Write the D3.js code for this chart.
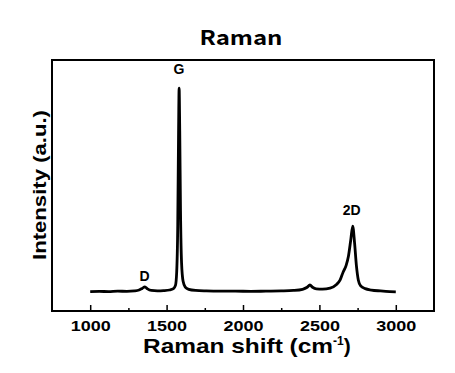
<!DOCTYPE html>
<html>
<head>
<meta charset="utf-8">
<script src="https://cdn.jsdelivr.net/npm/d3@7"></script>
<style>
  body { margin: 0; background: #fff; }
  text { font-family: Arial, "Liberation Sans", sans-serif; font-weight: bold; fill: #000; }
</style>
</head>
<body>
<div id="chart"></div>
<script>
// spectrum (wavenumber in cm-1, intensity in a.u.)
var shift = [1000, 1060, 1120, 1180, 1240, 1290, 1320, 1340, 1358, 1375, 1400, 1440, 1480, 1520,
  1545, 1558, 1566, 1573, 1578, 1582, 1586, 1591, 1598, 1608, 1622, 1645, 1690, 1760, 1850,
  1950, 2050, 2150, 2250, 2330, 2390, 2420, 2438, 2455, 2480, 2520, 2570, 2610, 2635, 2655,
  2675, 2690, 2705, 2718, 2730, 2742, 2755, 2770, 2800, 2840, 2900, 2960, 3000];
var intensity = [0.085, 0.086, 0.085, 0.087, 0.086, 0.088, 0.092, 0.099, 0.106, 0.097, 0.09, 0.088, 0.089, 0.092,
  0.098, 0.112, 0.17, 0.38, 0.76, 0.977, 0.79, 0.44, 0.21, 0.13, 0.105, 0.095, 0.09, 0.088, 0.087,
  0.087, 0.086, 0.087, 0.088, 0.09, 0.095, 0.104, 0.114, 0.104, 0.097, 0.096, 0.1, 0.115, 0.135, 0.17,
  0.2, 0.24, 0.31, 0.372, 0.3, 0.2, 0.135, 0.11, 0.098, 0.092, 0.088, 0.085, 0.084];
var peakNames = ["D", "G", "2D"];
var peakPos = [1355, 1580, 2712];
var peakTop = [0.13, 1.04, 0.42];
var xTicks = [1000, 1500, 2000, 2500, 3000];
var xMinorTicks = [1250, 1750, 2250, 2750];

var margin = {top: 60, right: 21, bottom: 62, left: 52},
    width = 455 - margin.left - margin.right,
    height = 373 - margin.top - margin.bottom;

var svg = d3.select("#chart")
  .append("svg")
  .attr("width", 455)
  .attr("height", 373);

var g = svg.append("g")
  .attr("transform", "translate(" + margin.left + "," + margin.top + ")");

var x = d3.scaleLinear().domain([750, 3250]).range([0, width]);
var y = d3.scaleLinear().domain([0, 1.1]).range([height, 0]);

var data = shift.map(function(s, i) { return {shift: s, value: intensity[i]}; });

// spectrum line
var line = d3.line()
  .x(function(d) { return x(d.shift); })
  .y(function(d) { return y(d.value); })
  .curve(d3.curveMonotoneX);

g.append("path")
  .datum(data)
  .attr("fill", "none")
  .attr("stroke", "#000")
  .attr("stroke-width", 2.8)
  .attr("stroke-linejoin", "round")
  .attr("d", line);

// x axis, ticks pointing inward
var xAxis = g.append("g")
  .attr("transform", "translate(0," + height + ")")
  .call(d3.axisBottom(x).tickValues(xTicks).tickFormat(d3.format("d"))
    .tickSizeInner(-6).tickSizeOuter(0).tickPadding(10));
xAxis.select(".domain").remove();
xAxis.selectAll("line").attr("stroke-width", 1.5);
xAxis.selectAll("text")
  .attr("font-size", 14)
  .attr("font-weight", "bold")
  .attr("font-family", "Arial, 'Liberation Sans', sans-serif")
  .attr("textLength", 40)
  .attr("lengthAdjust", "spacingAndGlyphs");

var minor = g.append("g")
  .attr("transform", "translate(0," + height + ")")
  .call(d3.axisBottom(x).tickValues(xMinorTicks).tickSizeInner(-3).tickSizeOuter(0).tickFormat(""));
minor.select(".domain").remove();
minor.selectAll("line").attr("stroke-width", 1.5);

// frame
g.append("rect")
  .attr("width", width)
  .attr("height", height)
  .attr("fill", "none")
  .attr("stroke", "#000")
  .attr("stroke-width", 2);

// peak labels
g.selectAll(".peak")
  .data(peakNames)
  .enter()
  .append("text")
  .attr("class", "peak")
  .attr("x", function(d, i) { return x(peakPos[i]); })
  .attr("y", function(d, i) { return y(peakTop[i]); })
  .attr("text-anchor", "middle")
  .attr("font-size", 14)
  .text(function(d) { return d; });

// titles
svg.append("text")
  .attr("x", 241)
  .attr("y", 45)
  .attr("text-anchor", "middle")
  .style("font-family", "'Noto Sans CJK KR', 'Noto Sans', sans-serif")
  .attr("font-size", 20)
  .attr("textLength", 83)
  .attr("lengthAdjust", "spacingAndGlyphs")
  .text("Raman");

var xLabel = svg.append("text")
  .attr("x", 143)
  .attr("y", 353)
  .attr("font-size", 21);
xLabel.append("tspan").attr("textLength", 190).attr("lengthAdjust", "spacingAndGlyphs").text("Raman shift (cm");
xLabel.append("tspan").attr("dy", -8).attr("font-size", 12).text("-1");
xLabel.append("tspan").attr("dy", 8).text(")");

svg.append("text")
  .attr("transform", "translate(46," + 185 + ") rotate(-90)")
  .attr("text-anchor", "middle")
  .attr("font-size", 18)
  .attr("textLength", 150)
  .attr("lengthAdjust", "spacingAndGlyphs")
  .text("Intensity (a.u.)");
</script>
</body>
</html>
